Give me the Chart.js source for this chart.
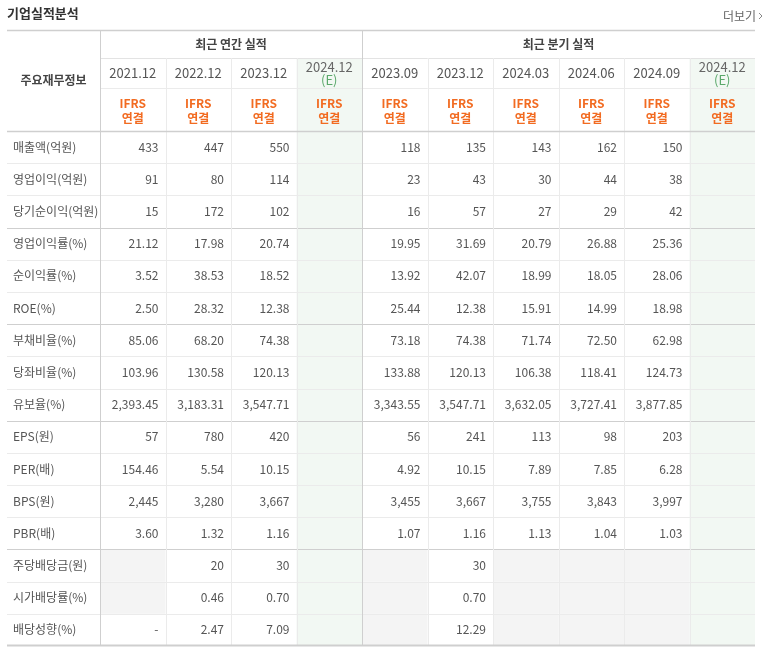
<!DOCTYPE html>
<html><head><meta charset="utf-8">
<script src="https://cdn.jsdelivr.net/npm/chart.js@4"></script>
<style>html,body{margin:0;padding:0;background:#fff}</style>
</head><body>
<canvas id="c" width="773" height="648"></canvas>
<script>
const columns = ['2021.12','2022.12','2023.12','2024.12(E)','2023.09','2023.12','2024.03','2024.06','2024.09','2024.12(E)'];
const estimateCols = [3, 9];
const rowLabels = ['매출액(억원)','영업이익(억원)','당기순이익(억원)','영업이익률(%)','순이익률(%)','ROE(%)','부채비율(%)','당좌비율(%)','유보율(%)','EPS(원)','PER(배)','BPS(원)','PBR(배)','주당배당금(원)','시가배당률(%)','배당성향(%)'];
const revenue    = ['433','447','550',null,'118','135','143','162','150',null];
const opProfit   = ['91','80','114',null,'23','43','30','44','38',null];
const netProfit  = ['15','172','102',null,'16','57','27','29','42',null];
const opMargin   = ['21.12','17.98','20.74',null,'19.95','31.69','20.79','26.88','25.36',null];
const netMargin  = ['3.52','38.53','18.52',null,'13.92','42.07','18.99','18.05','28.06',null];
const roe        = ['2.50','28.32','12.38',null,'25.44','12.38','15.91','14.99','18.98',null];
const debtRatio  = ['85.06','68.20','74.38',null,'73.18','74.38','71.74','72.50','62.98',null];
const quickRatio = ['103.96','130.58','120.13',null,'133.88','120.13','106.38','118.41','124.73',null];
const reserve    = ['2,393.45','3,183.31','3,547.71',null,'3,343.55','3,547.71','3,632.05','3,727.41','3,877.85',null];
const eps        = ['57','780','420',null,'56','241','113','98','203',null];
const per        = ['154.46','5.54','10.15',null,'4.92','10.15','7.89','7.85','6.28',null];
const bps        = ['2,445','3,280','3,667',null,'3,455','3,667','3,755','3,843','3,997',null];
const pbr        = ['3.60','1.32','1.16',null,'1.07','1.16','1.13','1.04','1.03',null];
const dps        = [null,'20','30',null,null,'30',null,null,null,null];
const divYield   = [null,'0.46','0.70',null,null,'0.70',null,null,null,null];
const payout     = ['-','2.47','7.09',null,null,'12.29',null,null,null,null];
const values = [revenue,opProfit,netProfit,opMargin,netMargin,roe,debtRatio,quickRatio,reserve,eps,per,bps,pbr,dps,divYield,payout];
const groupBreaks = [3,6,9,13];

const FONT = '"Noto Sans CJK KR", "Noto Sans", sans-serif';
const tablePlugin = {
  id:'table',
  afterDraw(chart){
    const ctx = chart.ctx, xs = chart.scales.x, ys = chart.scales.y;
    const ca = chart.chartArea;
    const cw = xs.width/columns.length, rh = ys.height/rowLabels.length;
    const L = 7, top = 30, h1 = 58, h2 = 88, hb = ca.top;
    const colL = j => xs.getPixelForValue(j) - cw/2;
    const colR = j => xs.getPixelForValue(j) + cw/2;
    ctx.save();
    ctx.fillStyle = '#333'; ctx.font = 'bold 13px '+FONT; ctx.textBaseline='middle'; ctx.textAlign='left';
    ctx.fillText('기업실적분석', 7, 13);
    ctx.fillStyle = '#666'; ctx.font = '12px '+FONT; ctx.textAlign='right';
    ctx.fillText('더보기', 756, 16);
    ctx.strokeStyle='#888'; ctx.lineWidth=1; ctx.beginPath(); ctx.moveTo(759,13); ctx.lineTo(762,16); ctx.lineTo(759,19); ctx.stroke();
    estimateCols.forEach(j => { ctx.fillStyle = '#f2f8f3'; ctx.fillRect(colL(j), h1, cw, ca.bottom - h1); });
    values.forEach((row,i) => row.forEach((v,j) => {
      if (v === null && !estimateCols.includes(j) && i >= 13) {
        ctx.fillStyle = '#f4f4f4'; ctx.fillRect(colL(j), ys.getPixelForValue(i)-rh/2, cw, rh);
      }
    }));
    const hl = (x1,x2,y,c,w) => { ctx.strokeStyle=c; ctx.lineWidth=w||1; ctx.beginPath(); ctx.moveTo(x1,Math.round(y)+0.5); ctx.lineTo(x2,Math.round(y)+0.5); ctx.stroke(); };
    const vl = (x,y1,y2,c,w) => { ctx.strokeStyle=c; ctx.lineWidth=w||1; ctx.beginPath(); ctx.moveTo(Math.round(x)+0.5,y1); ctx.lineTo(Math.round(x)+0.5,y2); ctx.stroke(); };
    for (let i=1;i<rowLabels.length;i++){
      const y = ys.getPixelForValue(i)-rh/2;
      hl(L, ca.right, y, groupBreaks.includes(i) ? '#cfcfcf' : '#ebebeb');
    }
    hl(ca.left, ca.right, h1, '#e3e3e3');
    hl(ca.left, ca.right, h2, '#ebebeb');
    for (let j=0;j<columns.length;j++){
      if (j===4) vl(colL(j), top, ca.bottom, '#cfcfcf');
      else vl(colL(j), j===0? top : h1, ca.bottom, j===0 ? '#cfcfcf' : '#ebebeb');
    }
    hl(L, ca.right, top, '#cfcfcf', 1.5);
    hl(L, ca.right, hb, '#cfcfcf', 1.5);
    hl(L, ca.right, ca.bottom-1, '#cfcfcf', 2);
    ctx.textAlign='center'; ctx.textBaseline='middle';
    ctx.fillStyle='#444'; ctx.font='bold 12px '+FONT;
    ctx.fillText('주요재무정보', (L+ca.left)/2, (top+hb)/2);
    ctx.fillText('최근 연간 실적', (colL(0)+colR(3))/2, (top+h1)/2);
    ctx.fillText('최근 분기 실적', (colL(4)+colR(9))/2, (top+h1)/2);
    columns.forEach((c,j) => {
      const x = xs.getPixelForValue(j);
      ctx.font='13px '+FONT;
      if (estimateCols.includes(j)) {
        ctx.fillStyle='#666'; ctx.fillText(c.replace('(E)',''), x, h1+9);
        ctx.fillStyle='#5aa86a'; ctx.fillText('(E)', x, h1+22);
      } else { ctx.fillStyle='#555'; ctx.fillText(c, x, (h1+h2)/2); }
      ctx.fillStyle='#f26b21'; ctx.font='bold 12px '+FONT;
      ctx.fillText('IFRS', x, h2+15); ctx.fillText('연결', x, h2+30);
    });
    ctx.font='12px '+FONT;
    rowLabels.forEach((lab,i) => {
      const y = ys.getPixelForValue(i);
      ctx.textAlign='left'; ctx.fillStyle='#555'; ctx.fillText(lab, L+6, y);
      ctx.textAlign='right';
      values[i].forEach((v,j) => { if (v!==null) ctx.fillText(v, colR(j)-7, y); });
    });
    ctx.restore();
  }
};
new Chart(document.getElementById('c'), {
  type:'bar',
  data:{ labels: columns, datasets:[{data: columns.map(()=>null)}] },
  options:{
    responsive:false, animation:false, devicePixelRatio:1,
    layout:{padding:{left:100, right:18, top:131, bottom:2}},
    plugins:{legend:{display:false}, tooltip:{enabled:false}},
    scales:{
      x:{type:'category', display:false, offset:true},
      y:{type:'category', labels: rowLabels, display:false, offset:true}
    }
  },
  plugins:[tablePlugin]
});
</script>
</body></html>
